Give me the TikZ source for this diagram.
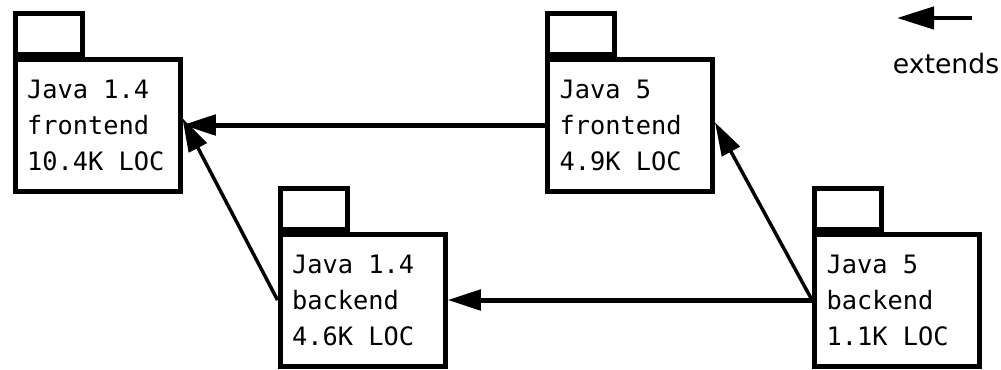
\documentclass[tikz,border=0pt]{standalone}
\usepackage{fontspec}
\setmainfont{DejaVu Sans}
\setmonofont{DejaVu Sans Mono}
\usetikzlibrary{arrows.meta}

\tikzset{every picture/.style={line width=0.75pt}}
\tikzset{
  pkg/.style={draw, line width=3.75pt, minimum width=123.75pt, minimum height=99pt,
    text width=105.75pt, inner xsep=9pt, align=flush left,
    font=\fontsize{19}{27}\selectfont\ttfamily},
  pkgtab/.style={draw, line width=3.75pt, minimum width=50.5pt, minimum height=30.75pt,
    anchor=south west, inner sep=0pt},
  ext/.style={-{Triangle[length=25pt,width=15pt]}},
}

\begin{document}
\begin{tikzpicture}[x=0.75pt,y=0.75pt,yscale=-1,xscale=1]
\useasboundingbox (0,0) rectangle (1001,369);

%Packages
\node [pkg] (jfront14) at (97.5,125) {Java 1.4\\frontend\\10.4K LOC};
\node [pkgtab] (jfront14tab) at (jfront14.north west) {};
\node [pkg] (jback14) at (362.5,300) {Java 1.4\\backend\\4.6K LOC};
\node [pkgtab] (jback14tab) at (jback14.north west) {};
\node [pkg] (jfront5) at (630,125) {Java 5\\frontend\\4.9K LOC};
\node [pkgtab] (jfront5tab) at (jfront5.north west) {};
\node [pkg] (jback5) at (897,300) {Java 5\\backend\\1.1K LOC};
\node [pkgtab] (jback5tab) at (jback5.north west) {};

%Straight Lines
\draw [ext, line width=3.75pt] (jfront5.west) -- (jfront14.east);
%Straight Lines
\draw [ext, line width=2.6pt] (jback14.west) -- ([yshift=-5pt]jfront14.east);
%Straight Lines
\draw [ext, line width=3.75pt] (jback5.west) -- (jback14.east);
%Straight Lines
\draw [ext, line width=2.6pt] (jback5.west) -- ([yshift=-2pt]jfront5.east);

%Legend
\coordinate (legtail) at (972,18);
\coordinate (legtip) at (897,18);
\draw [-{Triangle[length=27.75pt,width=16.5pt]}, line width=3.4pt] (legtail) -- (legtip);
% Text Node
\node [anchor=base, inner sep=0.75pt, font=\fontsize{20}{24}\selectfont] (legtext) at (946,73) {extends};
\end{tikzpicture}
\end{document}
